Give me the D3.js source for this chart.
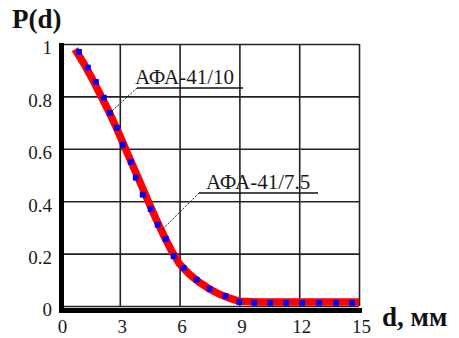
<!DOCTYPE html>
<html><head><meta charset="utf-8">
<script src="https://cdn.jsdelivr.net/npm/d3@7"></script>
<style>
html,body{margin:0;padding:0;background:#fff;}
svg{display:block;}
</style></head>
<body>
<script>
// ---- data ----
const xTicks = [0, 3, 6, 9, 12, 15];
const yTicks = [0, 0.2, 0.4, 0.6, 0.8, 1];
const yTickLabels = ["0", "0.2", "0.4", "0.6", "0.8", "1"];
const seriesNames = ["АФА-41/10", "АФА-41/7.5"];
// red series (АФА-41/10)
const redD = [0.75, 1.2, 1.6, 2.0, 2.4, 2.8, 3.2, 3.6, 4.0, 4.4, 4.8, 5.2, 5.6, 6.0, 6.5, 7.0, 7.5, 8.0, 8.5, 9.0, 10, 11, 12, 13, 14, 15];
const redP = [0.98, 0.925, 0.87, 0.81, 0.75, 0.685, 0.615, 0.545, 0.475, 0.405, 0.335, 0.27, 0.21, 0.16, 0.12, 0.09, 0.065, 0.045, 0.03, 0.018, 0.015, 0.015, 0.015, 0.015, 0.015, 0.015];
// blue series (АФА-41/7.5)
const blueD = [0.95, 1.4, 1.8, 2.2, 2.5, 2.85, 3.15, 3.55, 3.8, 4.15, 4.55, 4.9, 5.3, 5.7, 6.2, 6.85, 7.5, 8.3, 9.0, 9.75, 10.55, 11.35, 12.15, 13.0, 13.85, 14.65];
const blueP = [0.97, 0.91, 0.855, 0.795, 0.737, 0.68, 0.615, 0.55, 0.49, 0.425, 0.37, 0.31, 0.256, 0.19, 0.145, 0.10, 0.065, 0.038, 0.015, 0.012, 0.012, 0.012, 0.012, 0.012, 0.012, 0.012];

const W = 459, H = 338;
const svg = d3.select("body").append("svg").attr("width", W).attr("height", H);
const x = d3.scaleLinear().domain([0, 15]).range([60, 359]);
const y = d3.scaleLinear().domain([0, 1]).range([306, 44]);
const serif = "Liberation Serif, Times New Roman, DejaVu Serif, serif";

// grid via axes
const gy = svg.append("g").attr("transform", `translate(${x(0)},0)`)
  .call(d3.axisLeft(y).tickValues(yTicks).tickSize(-(x(15) - x(0))).tickPadding(8)
    .tickFormat((d, i) => yTickLabels[i]));
gy.attr("font-family", null);
gy.select(".domain").remove();
gy.selectAll("line").attr("stroke", "#222").attr("stroke-width", 1.6);
gy.selectAll("text").style("font-family", serif).style("font-size", "19px").attr("fill", "#1a1a1a")
  .attr("dy", "0.52em");

const gx = svg.append("g").attr("transform", `translate(0,${y(0)})`)
  .call(d3.axisBottom(x).tickValues(xTicks).tickSize(-(y(0) - y(1))).tickFormat(d3.format("d")));
gx.attr("font-family", null);
gx.select(".domain").remove();
gx.selectAll("line").attr("stroke", "#222").attr("stroke-width", 1.6);
gx.selectAll("text").style("font-family", serif).style("font-size", "19px").attr("fill", "#1a1a1a")
  .attr("y", 27).attr("dy", 0).attr("x", 2);

// thick axes
svg.append("line").attr("x1", x(0) + 1.5).attr("x2", x(0) + 1.5).attr("y1", y(1) - 1).attr("y2", y(0) + 7)
  .attr("stroke", "#000").attr("stroke-width", 5);
svg.append("line").attr("x1", x(0) - 1).attr("x2", x(15) + 3).attr("y1", y(0) + 4.5).attr("y2", y(0) + 4.5)
  .attr("stroke", "#000").attr("stroke-width", 5);

// red series
const red = redD.map((d, i) => [d, redP[i]]);
svg.append("path").datum(red)
  .attr("d", d3.line().x(d => x(d[0])).y(d => y(d[1])))
  .attr("fill", "none").attr("stroke", "#ff0000").attr("stroke-width", 7.5);

// blue series
const blue = blueD.map((d, i) => [d, blueP[i]]);
svg.selectAll(".bp").data(blue).enter().append("path")
  .attr("transform", d => `translate(${x(d[0])},${y(d[1])})`)
  .attr("d", d3.symbol().type(d3.symbolSquare).size(34))
  .attr("fill", "#0000ff");

// annotations
function annot(label, tx, ty, ux1, ux2, lx2, ly2) {
  svg.append("text").attr("x", tx).attr("y", ty).style("font-family", serif).style("font-size", "21px")
    .attr("fill", "#1a1a1a").text(label);
  svg.append("line").attr("x1", ux1).attr("x2", ux2).attr("y1", ty + 4).attr("y2", ty + 4)
    .attr("stroke", "#111").attr("stroke-width", 1.3);
  svg.append("line").attr("x1", ux1).attr("y1", ty + 4).attr("x2", lx2).attr("y2", ly2)
    .attr("stroke", "#111").attr("stroke-width", 1).attr("stroke-dasharray", "2,1.5");
}
annot(seriesNames[0], 135, 84, 137, 243, x(2.5), y(0.737));
annot(seriesNames[1], 206, 189, 199, 318, x(5.1), y(0.29));

// axis titles
svg.append("text").attr("x", 12).attr("y", 28).style("font-family", serif).style("font-weight", "bold")
  .style("font-size", "27px").attr("fill", "#111").text("P(d)");
svg.append("text").attr("x", 382).attr("y", 326).style("font-family", serif).style("font-weight", "bold")
  .style("font-size", "27px").attr("fill", "#111").text("d, мм");
</script>
</body></html>
